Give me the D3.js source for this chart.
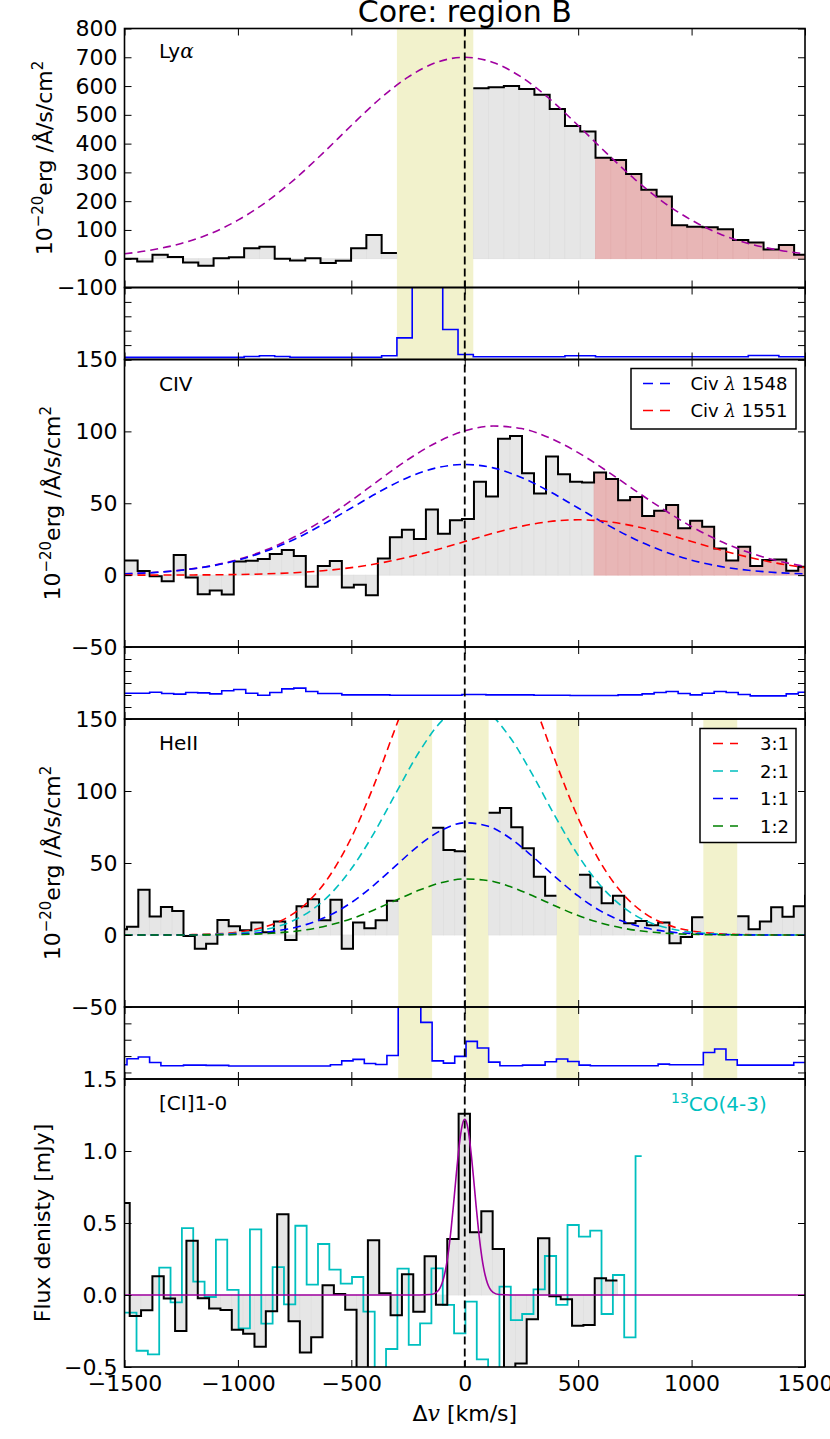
<!DOCTYPE html>
<html>
<head>
<meta charset="utf-8">
<script src="https://cdn.jsdelivr.net/npm/d3@7"></script>
<style>
  body { margin: 0; background: #fff; }
  svg { display: block; font-family: "DejaVu Sans", sans-serif; }
</style>
</head>
<body>
<svg id="chart" width="830" height="1439"></svg>
<script>
// ---------------- data ----------------
// Each spectrum is a step histogram on a regular velocity grid: first bin edge, bin width, values.
// null = masked bin (shown as a yellow band).

// Ly-alpha
const lyaBin0 = -1511.35, lyaBinW = 67.35;
const lyaFlux = [0, -10, 14, 6, -13, -24, 2, 5, 36, 42, 0, -6, 2, -15, -7, 36, 82, 20,
  null, null, null, null, null,
  592, 596, 600, 590, 570, 520, 461, 442, 351, 343, 294, 240, 216, 116, 111, 109, 102, 65, 56, 32, 48, 14];
const lyaNoise = [0.15, 0.15, 0.15, 0.15, 0.15, 0.15, 0.15, 0.15, 0.21, 0.26, 0.21,
  0.16, 0.16, 0.16, 0.16, 0.16, 0.16, 0.26, 1.50, 6, 6, 2.08, 0.35,
  0.19, 0.19, 0.19, 0.19, 0.19, 0.19, 0.26, 0.26,
  0.19, 0.19, 0.19, 0.19, 0.19, 0.19, 0.19, 0.19, 0.19, 0.19, 0.28, 0.28, 0.19, 0.19];
const lyaRedFrom = 570;

// CIV
const civBin0 = -1494.95, civBinW = 52.95;
const civFlux = [10.2, 2.8, -0.7, -4.2, 14.0, -1.6, -13.3, -10.7, -13.5, 9.5, 10.0, 11.2, 14.7, 17.4, 13.3,
  -8.1, 6.3, 9.8, -8.6, -6.7, -14.0, 11.6, 26.3, 31.6, 25.1, 45.6, 28.8, 38.1, 39.1,
  64.9, 54.7, 94.9, 96.8, 70.9, 56.8, 82.6, 70.2, 64.9, 64.4, 71.4, 66.8, 52.1, 54.4, 41.2,
  44.7, 48.8, 32.6, 37.9, 33.7, 18.6, 10.2, 19.8, 6.3, 10.5, 10.9, 3.0, 5.8];
const civNoise = [2.15, 2.15, 2.23, 2.12, 2.07, 2.21, 2.18, 2.09, 2.35, 2.46, 2.15, 1.98, 2.21, 2.51, 2.57,
  2.29, 2.12, 2.12, 2.01, 2.01, 2.01, 2.01, 1.98, 1.98, 1.98, 1.98, 1.98, 1.98, 2.04, 2.04,
  2.01, 2.01, 2.01, 2.01, 1.98, 1.98, 1.98, 1.96, 1.96, 1.96, 1.96, 2.01, 2.01, 2.09, 2.21,
  2.29, 2.12, 2.01, 2.15, 2.29, 2.21, 2.04, 1.93, 1.93, 1.93, 2.09, 2.23];
const civRedFrom = 560;

// HeII
const heiiBin0 = -1538.82, heiiBinW = 49.82;
const heiiFlux = [4.0, 5.8, 31.4, 12.8, 19.5, 16.7, -0.7, -9.5, -6.0, 10.5, 6.0, 3.3, 8.6, 1.9, 9.3,
  -3.5, 20.0, 24.9, 10.2, 24.4, -9.5, 8.6, 4.7, 10.2, 23.7,
  null, null, null, 74.4, 59.1, 58.2, null, null,
  84.9, 88.2, 74.9, 60.2, 40.5, 27.2, null, null,
  41.9, 33.0, 22.1, 27.2, 8.1, 9.8, 6.7, 8.6, -5.8, -1.4, 12.3, null, null, null,
  13.0, 4.0, 9.3, 19.3, 12.6, 20.0, 27.2];
const heiiNoise = [0.47, 0.84, 0.94, 0.61, 0.41, 0.41, 0.45, 0.45, 0.43, 0.43,
  0.39, 0.39, 0.39, 0.39, 0.39, 0.39, 0.39, 0.39, 0.39, 0.47, 0.71, 0.80, 0.55, 0.49, 1.04,
  5, 5, 3.06, 0.71, 0.57, 0.98, 1.90, 1.49, 0.63, 0.41, 0.41, 0.45, 0.45, 0.65, 0.82, 0.67,
  0.45, 0.41, 0.41, 0.41, 0.41, 0.41, 0.41, 0.51, 0.47, 0.47, 0.47, 1.22, 1.43, 0.78,
  0.45, 0.45, 0.45, 0.45, 0.45, 0.61, 0.61];

// [CI] 1-0 and 13CO(4-3)
const ciBin0 = -1527, ciBinW = 50;
const ciFlux = [0.639, -0.146, -0.106, 0.130, -0.025, -0.250, 0.377, -0.023, -0.093, -0.104, -0.241,
  -0.269, -0.359, -0.113, 0.560, -0.183, -0.400, -0.294, 0.067, 0.007, -0.102, -0.62, 0.380,
  0.012, -0.141, 0.144, -0.116, 0.269, -0.067, 0.389, 1.259, 0.435, 0.581, 0.319, -0.6,
  -0.475, -0.169, 0.394, -0.009, -0.030, -0.213, -0.208, 0.116, 0.100];
const coBin0 = -1497, coBinW = 50, coEnd = 780;
const coFlux = [-0.123, -0.387, -0.412, 0.190, -0.051, 0.465, 0.093, -0.014, 0.384, 0.035, -0.232,
  0.456, -0.199, 0.194, -0.065, 0.481, 0.072, 0.354, 0.176, 0.079, 0.125, -0.116, -0.6,
  -0.375, 0.183, -0.347, -0.197, 0.185, -0.069, -0.266, -0.046, -0.447, -0.6, 0.058,
  -0.174, -0.132, 0.039, 0.271, -0.069, 0.486, 0.405, 0.447, -0.132, 0.139, -0.294, 0.965];

// model curves
const grid125 = [-1500, -1375, -1250, -1125, -1000, -875, -750, -625, -500, -375, -250, -125, 0,
  125, 250, 375, 500, 625, 750, 875, 1000, 1125, 1250, 1375, 1500];
const lyaModel = [17, 31, 53, 86, 134, 197, 276, 367, 463, 555, 631, 682, 700,
  682, 631, 555, 463, 367, 276, 197, 134, 86, 53, 31, 17];
const civBlue = [0.86, 1.76, 3.4, 6.1, 10.4, 16.7, 25.0, 35.3, 46.7, 58.1, 67.95, 74.6, 77,
  74.6, 67.95, 58.1, 46.7, 35.3, 25.0, 16.7, 10.4, 6.1, 3.4, 1.76, 0.86];
const civRed = [0.01, 0.03, 0.09, 0.2, 0.43, 0.88, 1.69, 3.06, 5.21, 8.33, 12.5, 17.6, 23.35,
  29.1, 34.0, 37.3, 38.5, 37.3, 34.0, 29.1, 23.35, 17.6, 12.5, 8.33, 5.21];
const civSum = [0.87, 1.79, 3.49, 6.3, 10.83, 17.58, 26.69, 38.36, 51.91, 66.43, 80.45, 92.2, 100.35,
  103.7, 101.95, 95.4, 85.2, 72.6, 59.0, 45.8, 33.75, 23.7, 15.9, 10.09, 6.07];

const grid100 = [-1500, -1400, -1300, -1200, -1100, -1000, -900, -800, -700, -600, -500, -400, -300,
  -200, -100, 0, 100, 200, 300, 400, 500, 600, 700, 800, 900, 1000, 1100, 1200, 1300, 1400, 1500];
const heii31 = [0.01, 0.02, 0.08, 0.25, 0.74, 1.97, 4.8, 10.7, 21.7, 40.1, 67.6, 104.1, 146.2, 187.4,
  219.0, 233.6, 227.2, 201.7, 163.3, 120.6, 81.2, 49.9, 28.0, 14.3, 6.7, 2.84, 1.10, 0.39, 0.13, 0.04, 0.01];
const heii21 = [0, 0.01, 0.05, 0.17, 0.5, 1.34, 3.3, 7.2, 14.7, 27.2, 46.0, 70.8, 99.5, 127.4,
  148.9, 158.8, 154.5, 137.1, 111.0, 82.0, 55.3, 34.0, 19.1, 9.7, 4.6, 1.94, 0.75, 0.27, 0.08, 0.02, 0.01];
const heii11 = [0, 0.01, 0.03, 0.08, 0.25, 0.66, 1.6, 3.6, 7.2, 13.4, 22.5, 34.7, 48.7, 62.5,
  73.0, 77.9, 75.7, 67.2, 54.4, 40.2, 27.1, 16.6, 9.3, 4.8, 2.2, 0.95, 0.37, 0.13, 0.04, 0.01, 0];
const heii12 = [0, 0, 0.01, 0.04, 0.12, 0.33, 0.8, 1.8, 3.6, 6.7, 11.3, 17.4, 24.4, 31.2,
  36.5, 38.9, 37.9, 33.6, 27.2, 20.1, 13.5, 8.3, 4.7, 2.4, 1.1, 0.47, 0.18, 0.07, 0.02, 0.01, 0];

const ciModelV = [-1500, -200, -150, -125, -110, -100, -90, -80, -70, -60, -50, -40, -30, -20, -10, 0,
  10, 20, 30, 40, 50, 60, 70, 80, 90, 100, 110, 125, 150, 200, 1500];
const ciModel = [0, 0, 0.003, 0.018, 0.046, 0.082, 0.137, 0.216, 0.324, 0.461, 0.620, 0.792, 0.956,
  1.095, 1.187, 1.22, 1.187, 1.095, 0.956, 0.792, 0.620, 0.461, 0.324, 0.216, 0.137, 0.082,
  0.046, 0.018, 0.003, 0, 0];

const xTicks = [-1500, -1000, -500, 0, 500, 1000, 1500];
const civLegend = ["Civ", "Civ"], civLegendWave = ["1548", "1551"];
const heiiLegend = ["3:1", "2:1", "1:1", "1:2"];

// ---------------- drawing ----------------
const X0 = 124.5, X1 = 805;
const PURPLE = "#a000a0", CYAN = "#00bfbf", GREEN = "#008000";
const DASH = "8,5";
const x = d3.scaleLinear().domain([-1500, 1500]).range([X0, X1]);
const svg = d3.select("#chart");
const defs = svg.append("defs");
const bandLayer = svg.append("g");

function panel(id, top, bottom, domain) {
  const y = d3.scaleLinear().domain(domain).range([bottom, top]);
  defs.append("clipPath").attr("id", "clip-" + id)
    .append("rect").attr("x", X0).attr("y", top).attr("width", X1 - X0).attr("height", bottom - top);
  const g = svg.append("g").attr("clip-path", `url(#clip-${id})`);
  return {id, top, bottom, y, g};
}

const pLya = panel("lya", 28.5, 287.5, [-100, 800]);
const pN1 = panel("n1", 287.5, 359.5, [0, 5]);
const pCiv = panel("civ", 359.5, 647, [-50, 150]);
const pN2 = panel("n2", 647, 719, [0, 6]);
const pHeii = panel("heii", 719, 1007, [-50, 150]);
const pN3 = panel("n3", 1007, 1079, [-0.4, 4]);
const pCi = panel("ci", 1079, 1367, [-0.5, 1.5]);

function bins(start, w, vals, end) {
  return vals.map((v, i) => ({
    x0: i === 0 ? Math.min(start, -1500) : start + i * w,
    x1: Math.min(start + (i + 1) * w, end === undefined ? Infinity : end),
    v
  }));
}

function runs(b) {
  const out = []; let cur = null;
  b.forEach(d => {
    if (d.v == null) { cur = null; return; }
    if (!cur) { cur = []; out.push(cur); }
    cur.push(d);
  });
  return out;
}

function maskBands(b) {
  const out = []; let cur = null;
  b.forEach(d => {
    if (d.v != null) { cur = null; return; }
    if (!cur) { cur = [d.x0, d.x1]; out.push(cur); } else cur[1] = d.x1;
  });
  return out;
}

function steps(p, b, color, width) {
  runs(b).forEach(r => {
    const pts = r.map(d => [d.x0, d.v]);
    pts.push([r[r.length - 1].x1, r[r.length - 1].v]);
    p.g.append("path")
      .attr("d", d3.line().x(d => x(d[0])).y(d => p.y(d[1])).curve(d3.curveStepAfter)(pts))
      .attr("fill", "none").attr("stroke", color).attr("stroke-width", width)
      .attr("stroke-linejoin", "miter");
  });
}

function fills(p, b, redFrom) {
  p.g.append("g").selectAll("rect").data(b.filter(d => d.v != null)).enter().append("rect")
    .attr("x", d => x(d.x0))
    .attr("width", d => x(d.x1) - x(d.x0))
    .attr("y", d => Math.min(p.y(0), p.y(d.v)))
    .attr("height", d => Math.abs(p.y(d.v) - p.y(0)))
    .attr("fill", d => (redFrom !== undefined && d.x0 >= redFrom) ? "#e8b6b6" : "#e6e6e6")
    .attr("stroke", d => (redFrom !== undefined && d.x0 >= redFrom) ? "#e2abab" : "#dedede")
    .attr("stroke-width", 0.7);
}

function model(p, xs, ys, color, dash, width) {
  p.g.append("path")
    .attr("d", d3.line().x((d, i) => x(xs[i])).y(d => p.y(d)).curve(d3.curveMonotoneX)(ys))
    .attr("fill", "none").attr("stroke", color).attr("stroke-width", width || 1.6)
    .attr("stroke-dasharray", dash);
}

function bands(list, top, bottom) {
  list.forEach(bd => {
    bandLayer.append("rect")
      .attr("x", x(Math.max(bd[0], -1500))).attr("width", x(bd[1]) - x(Math.max(bd[0], -1500)))
      .attr("y", top).attr("height", bottom - top).attr("fill", "#f2f2cc");
  });
}

// Ly-alpha
const lyaB = bins(lyaBin0, lyaBinW, lyaFlux);
bands(maskBands(lyaB), pLya.top, pN1.bottom);
fills(pLya, lyaB, lyaRedFrom);
steps(pLya, lyaB, "#000", 2);
model(pLya, grid125, lyaModel, PURPLE, DASH);
steps(pN1, bins(lyaBin0, lyaBinW, lyaNoise), "#0000ff", 1.6);

// CIV
const civB = bins(civBin0, civBinW, civFlux);
fills(pCiv, civB, civRedFrom);
steps(pCiv, civB, "#000", 2);
model(pCiv, grid125, civSum, PURPLE, DASH);
model(pCiv, grid125, civBlue, "#0000ff", DASH);
model(pCiv, grid125, civRed, "#ff0000", DASH);
steps(pN2, bins(civBin0, civBinW, civNoise), "#0000ff", 1.6);

// HeII
const heiiB = bins(heiiBin0, heiiBinW, heiiFlux);
bands(maskBands(heiiB), pHeii.top, pN3.bottom);
fills(pHeii, heiiB);
steps(pHeii, heiiB, "#000", 2);
model(pHeii, grid100, heii31, "#ff0000", DASH);
model(pHeii, grid100, heii21, CYAN, DASH);
model(pHeii, grid100, heii11, "#0000ff", DASH);
model(pHeii, grid100, heii12, GREEN, DASH);
steps(pN3, bins(heiiBin0, heiiBinW, heiiNoise), "#0000ff", 1.6);

// [CI]
const ciB = bins(ciBin0, ciBinW, ciFlux);
fills(pCi, ciB);
steps(pCi, bins(coBin0, coBinW, coFlux, coEnd), CYAN, 1.8);
steps(pCi, ciB, "#000", 2);
model(pCi, ciModelV, ciModel, PURPLE, null, 1.6);

// axes, ticks and frames
const xFmt = d3.format("d");
function axes(p, yTicks, yFmt, xLabels) {
  const g = svg.append("g");
  const none = () => "";
  g.append("g").attr("transform", `translate(${X0},0)`)
    .call(d3.axisLeft(p.y).tickValues(yTicks).tickSize(-7).tickPadding(7).tickFormat(yFmt || none));
  g.append("g").attr("transform", `translate(${X1},0)`)
    .call(d3.axisRight(p.y).tickValues(yTicks).tickSize(-7).tickFormat(none));
  g.append("g").attr("transform", `translate(0,${p.top})`)
    .call(d3.axisTop(x).tickValues(xTicks).tickSize(-7).tickFormat(none));
  g.append("g").attr("transform", `translate(0,${p.bottom})`)
    .call(d3.axisBottom(x).tickValues(xTicks).tickSize(-7).tickPadding(8).tickFormat(xLabels ? xFmt : none));
  g.selectAll(".domain").remove();
  g.selectAll(".tick line").attr("stroke", "#000").attr("stroke-width", 1);
  g.selectAll("text").attr("font-size", 22).attr("font-family", "DejaVu Sans").attr("fill", "#000");
  g.append("rect").attr("x", X0).attr("y", p.top).attr("width", X1 - X0).attr("height", p.bottom - p.top)
    .attr("fill", "none").attr("stroke", "#000").attr("stroke-width", 1.6);
}
axes(pLya, d3.range(-100, 801, 100), d3.format("d"));
axes(pN1, [0, 1, 2, 3, 4, 5]);
axes(pCiv, [-50, 0, 50, 100, 150], d3.format("d"));
axes(pN2, [0, 1, 2, 3, 4, 5, 6]);
axes(pHeii, [-50, 0, 50, 100, 150], d3.format("d"));
axes(pN3, [0, 1, 2, 3, 4]);
axes(pCi, [-0.5, 0, 0.5, 1, 1.5], d3.format(".1f"), true);

// zero-velocity line through all panels
svg.append("line").attr("x1", x(0)).attr("x2", x(0)).attr("y1", pLya.top).attr("y2", pCi.bottom)
  .attr("stroke", "#000").attr("stroke-width", 1.8).attr("stroke-dasharray", "8,4");

// texts
svg.append("text").attr("x", (X0 + X1) / 2).attr("y", 21.5).attr("text-anchor", "middle")
  .attr("font-size", 30).text("Core: region B");

function tag(xp, yp, parts, color) {
  const t = svg.append("text").attr("x", xp).attr("y", yp).attr("font-size", 20).attr("fill", color || "#000");
  parts.forEach(s => {
    const ts = t.append("tspan").text(s.t);
    if (s.it) ts.attr("font-style", "italic").attr("font-family", "DejaVu Serif");
    if (s.sup) ts.attr("font-size", 14).attr("dy", -8);
    if (s.down) ts.attr("dy", 8);
  });
  return t;
}
tag(159, 57.5, [{t: "Ly"}, {t: "α", it: true}]);
tag(159, 390.5, [{t: "CIV"}]);
tag(159, 750, [{t: "HeII"}]);
tag(159, 1110, [{t: "[CI]1-0"}]);
tag(671, 1111, [{t: "13", sup: true}, {t: "CO(4-3)", down: true}], CYAN);

function ylab(xb, yc, parts) {
  const t = svg.append("text").attr("transform", `translate(${xb},${yc}) rotate(-90)`)
    .attr("text-anchor", "middle").attr("font-size", 22);
  parts.forEach(s => {
    const ts = t.append("tspan").text(s.t);
    if (s.sup) ts.attr("font-size", 15).attr("dy", -9);
    if (s.down) ts.attr("dy", 9);
  });
}
const fluxParts = [{t: "10"}, {t: "−20", sup: true}, {t: "erg /Å/s/cm", down: true}, {t: "2", sup: true}];
ylab(52, (pLya.top + pLya.bottom) / 2, fluxParts);
ylab(60, (pCiv.top + pCiv.bottom) / 2, fluxParts);
ylab(60, (pHeii.top + pHeii.bottom) / 2, fluxParts);
ylab(50, (pCi.top + pCi.bottom) / 2, [{t: "Flux denisty [mJy]"}]);

const xl = svg.append("text").attr("x", (X0 + X1) / 2).attr("y", 1421).attr("text-anchor", "middle").attr("font-size", 22);
xl.append("tspan").text("Δ");
xl.append("tspan").attr("font-style", "italic").attr("font-family", "DejaVu Serif").text("v");
xl.append("tspan").text(" [km/s]");

// legends
function legend(x0, y0, w, h, rows, colors, lineX, textX, rowY) {
  const g = svg.append("g");
  g.append("rect").attr("x", x0).attr("y", y0).attr("width", w).attr("height", h)
    .attr("fill", "#fff").attr("stroke", "#000").attr("stroke-width", 1.5);
  rows.forEach((r, i) => {
    const yy = rowY[i];
    g.append("line").attr("x1", lineX[0]).attr("x2", lineX[1]).attr("y1", yy).attr("y2", yy)
      .attr("stroke", colors[i]).attr("stroke-width", 1.6).attr("stroke-dasharray", "10,7");
    const t = g.append("text").attr("x", textX).attr("y", yy + 6.5).attr("font-size", 18);
    r.forEach(s => {
      const ts = t.append("tspan").text(s.t);
      if (s.it) ts.attr("font-style", "italic").attr("font-family", "DejaVu Serif");
    });
  });
}
legend(631, 368.5, 165, 60.5,
  civLegend.map((c, i) => [{t: c + " "}, {t: "λ", it: true}, {t: " " + civLegendWave[i]}]),
  ["#0000ff", "#ff0000"], [643, 670], 690.5, [383.5, 410.5]);
legend(700, 728.5, 96, 114,
  heiiLegend.map(c => [{t: c}]),
  ["#ff0000", CYAN, "#0000ff", GREEN], [713, 738], 760, [743.5, 771, 798.5, 826]);
</script>
</body>
</html>
